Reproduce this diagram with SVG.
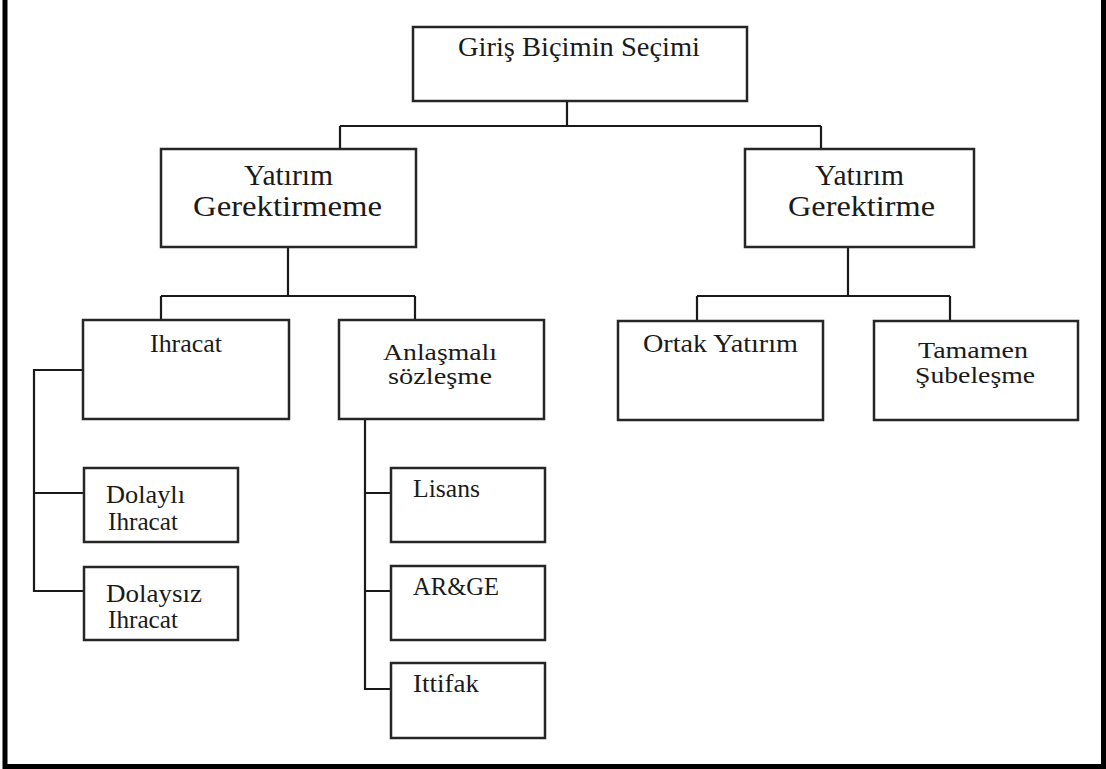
<svg xmlns="http://www.w3.org/2000/svg" width="1106" height="769" viewBox="0 0 1106 769">
<style>
.box{fill:#fff;stroke:#262626;stroke-width:2.5}
.ln{fill:none;stroke:#1a1a1a;stroke-width:2.2}
.frame{fill:none;stroke:#000;stroke-width:5}
text{font-family:"Liberation Serif","Times New Roman",serif;fill:#1a1a1a}
.t1{font-size:27px}
.t2{font-size:30px}
.t3{font-size:26px}
.t3s{font-size:24px}
.t4{font-size:25px}
</style>
<rect width="1106" height="769" fill="#fff"/>
<path class="frame" d="M5,0 V766.5 H1103.5 V0"/>
<g id="connectors">
<path class="ln" d="M567,101 V126 M340,126 H821 M340,126 V149 M821,126 V149"/>
<path class="ln" d="M288,247 V296 M161,296 H415 M161,296 V320 M415,296 V320"/>
<path class="ln" d="M848,247 V296 M697,296 H950 M697,296 V321 M950,296 V321"/>
<path class="ln" d="M83,370 H34 V591 H84 M34,493 H84"/>
<path class="ln" d="M365,419 V689 H391 M365,493 H391 M365,591 H391"/>
</g>
<g id="n-giris">
<rect class="box" x="413" y="27" width="334" height="74"/>
<text class="t1" x="458" y="56" textLength="242" lengthAdjust="spacingAndGlyphs">Giriş Biçimin Seçimi</text>
</g>
<g id="n-yatirim-gerektirmeme">
<rect class="box" x="161" y="149" width="255" height="98"/>
<text class="t2" x="244" y="185" textLength="89" lengthAdjust="spacingAndGlyphs">Yatırım</text>
<text class="t2" x="193" y="216" textLength="189" lengthAdjust="spacingAndGlyphs">Gerektirmeme</text>
</g>
<g id="n-yatirim-gerektirme">
<rect class="box" x="745" y="149" width="229" height="98"/>
<text class="t2" x="815" y="185" textLength="89" lengthAdjust="spacingAndGlyphs">Yatırım</text>
<text class="t2" x="788" y="216" textLength="147" lengthAdjust="spacingAndGlyphs">Gerektirme</text>
</g>
<g id="n-ihracat">
<rect class="box" x="83" y="320" width="206" height="99"/>
<text class="t4" x="150" y="352" textLength="72" lengthAdjust="spacingAndGlyphs">Ihracat</text>
</g>
<g id="n-anlasmali">
<rect class="box" x="339" y="320" width="205" height="99"/>
<text class="t3s" x="383" y="360" textLength="114" lengthAdjust="spacingAndGlyphs">Anlaşmalı</text>
<text class="t3s" x="388" y="384" textLength="104" lengthAdjust="spacingAndGlyphs">sözleşme</text>
</g>
<g id="n-ortak">
<rect class="box" x="618" y="321" width="205" height="99"/>
<text class="t3" x="643" y="352" textLength="155" lengthAdjust="spacingAndGlyphs">Ortak Yatırım</text>
</g>
<g id="n-tamamen">
<rect class="box" x="874" y="321" width="204" height="99"/>
<text class="t3s" x="918" y="358" textLength="110" lengthAdjust="spacingAndGlyphs">Tamamen</text>
<text class="t3s" x="915" y="383" textLength="120" lengthAdjust="spacingAndGlyphs">Şubeleşme</text>
</g>
<g id="n-dolayli">
<rect class="box" x="84" y="468" width="154" height="74"/>
<text class="t4" x="106" y="503" textLength="79" lengthAdjust="spacingAndGlyphs">Dolaylı</text>
<text class="t4" x="108" y="530" textLength="70" lengthAdjust="spacingAndGlyphs">Ihracat</text>
</g>
<g id="n-dolaysiz">
<rect class="box" x="84" y="567" width="154" height="73"/>
<text class="t4" x="106" y="602" textLength="96" lengthAdjust="spacingAndGlyphs">Dolaysız</text>
<text class="t4" x="108" y="628" textLength="70" lengthAdjust="spacingAndGlyphs">Ihracat</text>
</g>
<g id="n-lisans">
<rect class="box" x="391" y="468" width="154" height="74"/>
<text class="t4" x="413" y="497" textLength="67" lengthAdjust="spacingAndGlyphs">Lisans</text>
</g>
<g id="n-arge">
<rect class="box" x="391" y="566" width="154" height="74"/>
<text class="t4" x="413" y="595" textLength="86" lengthAdjust="spacingAndGlyphs">AR&amp;GE</text>
</g>
<g id="n-ittifak">
<rect class="box" x="391" y="663" width="154" height="75"/>
<text class="t4" x="413" y="692" textLength="66" lengthAdjust="spacingAndGlyphs">Ittifak</text>
</g>
</svg>
